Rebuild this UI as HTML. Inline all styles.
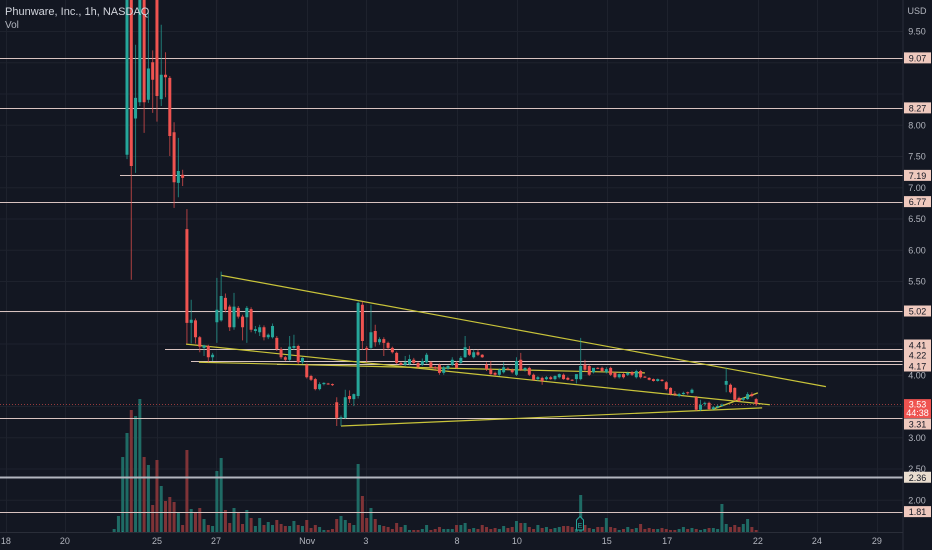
<!DOCTYPE html>
<html><head><meta charset="utf-8">
<style>
html,body{margin:0;padding:0;background:#131722;}
svg{display:block;font-family:"Liberation Sans",sans-serif;}
</style></head>
<body>
<svg id="chart" width="932" height="550" viewBox="0 0 932 550" xmlns="http://www.w3.org/2000/svg">
<rect x="0" y="0" width="932" height="550" fill="#131722"/>
<defs><clipPath id="plot"><rect x="0" y="0" width="903" height="532"/></clipPath></defs>
<g id="grid"></g>
<g id="vol" clip-path="url(#plot)"></g>
<g id="hlines"></g>
<g id="trend"></g>
<g id="candles" clip-path="url(#plot)"></g>
<line x1="903" y1="0" x2="903" y2="550" stroke="#2a2e39"/>
<line x1="0" y1="532.5" x2="903" y2="532.5" stroke="#2a2e39"/>
<g id="yaxis"></g>
<g id="xaxis"></g>
<text x="5" y="15" font-size="11" fill="#d1d4dc">Phunware, Inc., 1h, NASDAQ</text>
<text x="5" y="28" font-size="10" fill="#b2b5be">Vol</text>
<text x="917" y="14" font-size="9" fill="#b2b5be" text-anchor="middle">USD</text>
<g>
<path d="M576.5,530 L576.5,520 L580,516.5 L583.5,520 L583.5,530 Z" fill="#131722" stroke="#26a69a" stroke-width="1"/>
<text x="580" y="528" font-size="7" fill="#26a69a" text-anchor="middle">E</text>
</g>
</svg>
<script>
const candles = [
[1.4,1.45,1.35,1.42],[1.42,1.46,1.38,1.44],[1.44,1.5,1.4,1.48],
[7.52,10.6,7.45,10.5],[10.6,11,5.52,7.34],[8.1,9.28,7.23,8.43],[8.36,10.6,8.3,10.5],[10.5,10.7,7.87,8.36],
[8.4,9.8,8.35,8.9],[9.0,9.19,8.19,8.72],[10.5,10.6,8.05,8.46],[8.41,9.6,8.3,8.8],[8.8,9.16,8.44,8.76],
[8.75,8.78,7.5,7.82],[7.88,8.04,6.67,7.08],[7.07,7.79,6.84,7.26],[7.2,7.28,7.02,7.15],[6.33,6.65,4.5,4.83],
[4.83,5.2,4.5,4.88],[4.87,4.9,4.5,4.6],[4.6,4.62,4.36,4.45],[4.43,4.48,4.3,4.47],[4.46,4.48,4.2,4.28],
[4.28,4.35,4.22,4.32],[4.84,5.55,4.51,5.04],[4.87,5.65,4.85,5.26],[5.23,5.3,5.0,5.04],[5.09,5.12,4.7,4.76],
[4.76,5.31,4.72,5.09],[5.07,5.1,4.9,4.93],[4.93,4.96,4.55,4.76],[4.92,5.1,4.51,5.07],[5.05,5.08,4.68,4.72],
[4.70,4.78,4.66,4.73],[4.68,4.8,4.62,4.76],[4.76,4.79,4.55,4.6],[4.6,4.66,4.57,4.64],[4.6,4.82,4.58,4.78],
[4.59,4.62,4.38,4.41],[4.41,4.44,4.25,4.28],[4.28,4.3,4.22,4.24],[4.24,4.62,4.22,4.45],[4.43,4.64,4.4,4.46],
[4.46,4.48,4.17,4.2],[4.2,4.28,4.17,4.27],[4.16,4.18,3.94,3.96],[3.98,4.0,3.9,3.92],[3.93,3.95,3.75,3.77],
[3.77,3.88,3.75,3.85],[3.85,3.88,3.83,3.87],[3.86,3.87,3.84,3.85],[3.85,3.86,3.82,3.84],[3.56,3.64,3.18,3.31],
[3.3,3.35,3.18,3.32],[3.31,3.76,3.29,3.64],[3.66,3.75,3.55,3.61],[3.61,3.7,3.5,3.69],[3.66,5.17,3.62,5.15],
[5.12,5.17,4.4,4.54],[4.43,4.46,4.2,4.40],[4.43,5.12,4.4,4.68],[4.7,4.8,4.45,4.52],[4.52,4.6,4.48,4.57],
[4.57,4.6,4.3,4.51],[4.51,4.53,4.4,4.43],[4.43,4.45,4.34,4.36],[4.35,4.37,4.17,4.19],[4.19,4.21,4.15,4.16],
[4.16,4.3,4.14,4.2],[4.17,4.32,4.15,4.25],[4.24,4.27,4.17,4.19],[4.19,4.21,4.1,4.12],[4.16,4.26,4.14,4.22],
[4.2,4.35,4.18,4.32],[4.2,4.22,4.1,4.12],[4.12,4.14,4.08,4.1],[4.16,4.18,4.0,4.03],[4.03,4.14,4.0,4.12],
[4.1,4.16,4.08,4.14],[4.16,4.28,4.14,4.24],[4.19,4.22,4.1,4.11],[4.19,4.3,4.17,4.27],[4.28,4.62,4.27,4.44],
[4.4,4.46,4.3,4.32],[4.28,4.4,4.26,4.36],[4.36,4.4,4.3,4.32],[4.32,4.33,4.27,4.28],[4.16,4.2,4.06,4.09],
[4.09,4.22,4.0,4.01],[4.03,4.05,3.98,4.0],[4.0,4.1,3.98,4.08],[4.04,4.2,4.02,4.12],[4.1,4.12,4.07,4.09],
[4.08,4.1,4.02,4.04],[4.0,4.28,3.98,4.22],[4.24,4.35,4.06,4.08],[4.08,4.12,4.05,4.11],[4.11,4.13,3.98,4.0],
[4.0,4.02,3.9,3.92],[3.93,3.98,3.9,3.96],[3.95,3.97,3.84,3.9],[3.93,3.98,3.91,3.96],[3.96,3.98,3.92,3.93],
[3.93,3.99,3.91,3.98],[3.96,4.02,3.94,4.01],[4.0,4.02,3.92,3.93],[3.95,3.97,3.91,3.92],[3.92,3.93,3.9,3.91],
[3.93,4.0,3.86,4.01],[3.93,4.59,3.91,4.14],[4.16,4.24,4.05,4.08],[4.14,4.16,3.98,4.0],[4.04,4.1,4.02,4.11],
[4.11,4.12,4.09,4.10],[4.11,4.13,4.05,4.06],[4.04,4.12,4.02,4.09],[4.11,4.13,3.98,4.0],[4.03,4.05,3.94,3.96],
[3.96,4.02,3.94,4.01],[4.01,4.03,3.94,3.96],[4.0,4.05,3.98,4.03],[4.04,4.06,3.98,4.0],[3.96,4.08,3.94,4.06],
[4.06,4.08,3.94,3.96],[3.97,3.98,3.95,3.96],[3.95,3.96,3.91,3.92],[3.93,3.94,3.89,3.9],[3.9,3.94,3.89,3.93],
[3.92,3.93,3.89,3.9],[3.88,3.9,3.75,3.77],[3.79,3.8,3.67,3.69],[3.7,3.74,3.66,3.69],[3.66,3.71,3.64,3.69],
[3.69,3.73,3.68,3.71],[3.72,3.73,3.68,3.71],[3.71,3.78,3.7,3.76],[3.64,3.66,3.42,3.44],[3.44,3.6,3.42,3.52],
[3.54,3.57,3.5,3.55],[3.55,3.57,3.44,3.45],[3.45,3.5,3.44,3.48],[3.48,3.52,3.46,3.50],[3.5,3.54,3.49,3.52],
[3.84,4.11,3.72,3.9],[3.84,3.86,3.7,3.72],[3.79,3.8,3.58,3.6],[3.63,3.65,3.56,3.58],[3.6,3.64,3.58,3.63],
[3.61,3.72,3.6,3.69],[3.69,3.72,3.64,3.66],[3.61,3.63,3.5,3.53]
];
const volumes = [3,16,75,99,122,116,133,75,67,27,72,46,31,35,30,19,7,82,23,19,24,13,7,6,61,74,22,9,24,20,
8,22,14,6,14,7,10,7,12,8,6,6,11,7,6,12,4,7,5,2,2,3,13,16,12,9,7,68,36,14,24,13,7,6,5,3,9,5,7,2,
2,2,3,7,2,3,5,3,3,3,7,7,9,3,4,3,7,5,3,4,3,6,4,5,11,9,9,5,3,7,4,5,3,4,5,6,6,5,3,37,
7,4,3,5,5,14,5,4,2,3,5,3,4,8,3,4,3,3,4,3,2,2,3,5,3,4,3,2,3,4,4,3,28,8,5,7,5,8,13,5,2];
const priceTicks = [9.5,8.0,7.5,7.0,6.5,6.0,5.5,4.0,3.0,2.5,2.0];
const gridPrices = [9.5,9.0,8.5,8.0,7.5,7.0,6.5,6.0,5.5,5.0,4.5,4.0,3.5,3.0,2.5,2.0];
const levelPrices = [9.07,8.27,7.19,6.77,5.02,4.41,4.22,4.17,3.31,2.36,1.81];
const levelStarts = [0,0,120,0,0,165,191,277,0,0,0];
const dateLabels = ["18","20","25","27","Nov","3","8","10","15","17","22","24","29"];
const dateBars = [-25.3,-11.5,10,23.8,45.1,58.8,80.1,94.1,115.1,129.2,150.4,164.2,178.2];
const lastPrice = 3.53;
const trendLines = [[25,5.59,166.3,3.81],[16.8,4.49,153.2,3.52],[19.8,4.20,124,4.03],[53,3.18,151.4,3.47],[139.9,3.45,150.4,3.71]];

const NS = "http://www.w3.org/2000/svg";
function yP(p){return 31 + (9.5 - p) * 62.5;}
function xB(i){return 127 + (i - 3) * 4.28;}
const VBASE = 532;
function vH(v){return v;}
function mk(tag, attrs, parent){const e=document.createElementNS(NS,tag);for(const k in attrs)e.setAttribute(k,attrs[k]);parent.appendChild(e);return e;}

const grid = document.getElementById('grid');
gridPrices.forEach(p=>{const l=mk('line',{x1:0,x2:903,y1:yP(p)+0.5,y2:yP(p)+0.5,stroke:'#1e222d'},grid);

});
dateBars.forEach(b=>{const l=mk('line',{x1:Math.round(xB(b))+0.5,x2:Math.round(xB(b))+0.5,y1:0,y2:532,stroke:'#1e222d'},grid);

});

const vol = document.getElementById('vol');
volumes.forEach((v,i)=>{const c=candles[i];const up=c[3]>=c[0];
const r=mk('rect',{x:xB(i)-1.5,y:VBASE-vH(v),width:3,height:vH(v),fill:up?'#1f6b65':'#7f3337'},vol);

});

const hl = document.getElementById('hlines');
levelPrices.forEach((p,i)=>{const y=Math.round(yP(p))+0.5;const is236=p===2.36;
const l=mk('line',{x1:levelStarts[i],x2:903,y1:y,y2:y,stroke:is236?'#b2b5be':'#d8c3c0','stroke-width':is236?2:1},hl);

});
const ly=Math.round(yP(lastPrice))+0.5;
const dl=mk('line',{x1:0,x2:903,y1:ly,y2:ly,stroke:'#ef5350','stroke-dasharray':'1 2','stroke-opacity':0.6},hl);



const tr = document.getElementById('trend');
trendLines.forEach(t=>{const l=mk('line',{x1:xB(t[0]),y1:yP(t[1]),x2:xB(t[2]),y2:yP(t[3]),stroke:'#c9c43a','stroke-width':1.2},tr);

});

const cg = document.getElementById('candles');
candles.forEach((c,i)=>{const [o,h,l,cl]=c;const up=cl>=o;const col=up?'#26a69a':'#ef5350';const x=xB(i);
const g=mk('g',{},cg);


mk('line',{x1:x,x2:x,y1:yP(h),y2:yP(l),stroke:col,'stroke-width':1,'stroke-opacity':0.7},g);
const top=yP(Math.max(o,cl)),bot=yP(Math.min(o,cl));
mk('rect',{x:x-1.5,y:top,width:3,height:Math.max(1,bot-top),fill:col},g);});

const ya = document.getElementById('yaxis');
priceTicks.forEach(p=>{const t=mk('text',{x:917,y:yP(p)+3.5,'font-size':9,fill:'#b2b5be','text-anchor':'middle'},ya);t.textContent=p.toFixed(2);

});
const labelY = {4.41:345,4.22:355,4.17:366,3.31:424};
levelPrices.forEach(p=>{const y=labelY[p]!==undefined?labelY[p]:yP(p);const g=mk('g',{},ya);


mk('rect',{x:904,y:y-5.5,width:27,height:11,fill:p===2.36?'#e9ddcf':'#efc9be'},g);
const t=mk('text',{x:917.5,y:y+3.5,'font-size':9,fill:'#131722','text-anchor':'middle'},g);t.textContent=p.toFixed(2);});
const lg=mk('g',{},ya);


mk('rect',{x:904,y:yP(lastPrice)-5,width:27,height:19,fill:'#ef5350'},lg);
const lt1=mk('text',{x:917.5,y:yP(lastPrice)+3.5,'font-size':9,fill:'#ffffff','text-anchor':'middle'},lg);lt1.textContent=lastPrice.toFixed(2);
const lt2=mk('text',{x:917.5,y:yP(lastPrice)+12,'font-size':9,fill:'#ffffff','text-anchor':'middle'},lg);lt2.textContent="44:38";

const xa = document.getElementById('xaxis');
dateLabels.forEach((d,i)=>{const t=mk('text',{x:xB(dateBars[i]),y:544,'font-size':9,fill:'#b2b5be','text-anchor':'middle'},xa);t.textContent=d;

});
</script>
</body></html>
